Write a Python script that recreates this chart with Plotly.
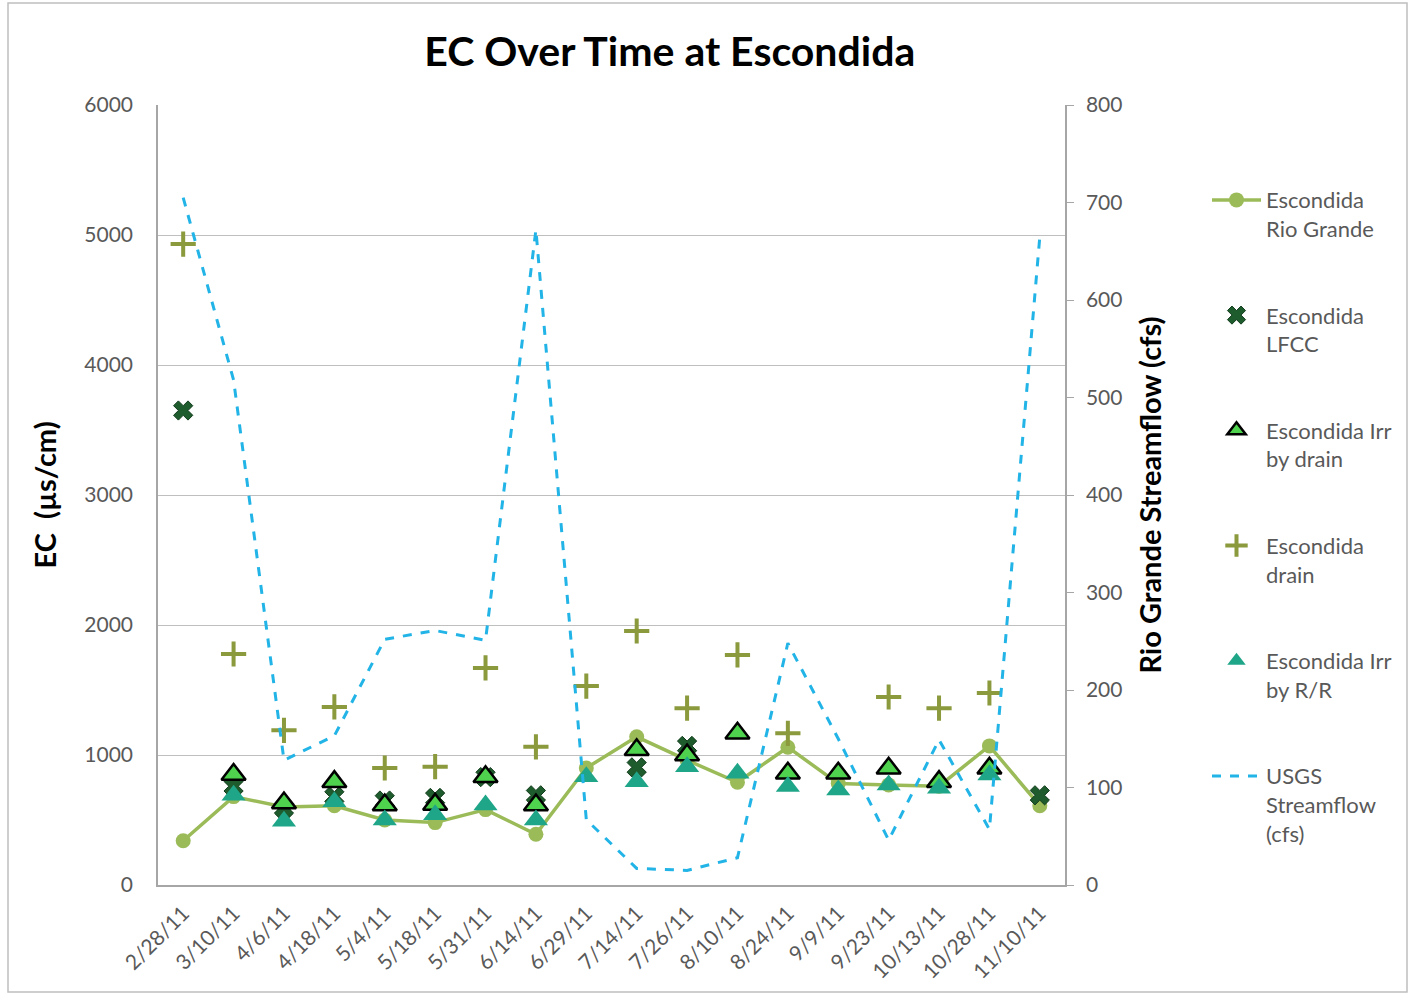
import plotly.graph_objects as go

# Sampling dates (category axis)
categories = ["2/28/11", "3/10/11", "4/6/11", "4/18/11", "5/4/11", "5/18/11",
              "5/31/11", "6/14/11", "6/29/11", "7/14/11", "7/26/11", "8/10/11",
              "8/24/11", "9/9/11", "9/23/11", "10/13/11", "10/28/11", "11/10/11"]

# EC (µs/cm) per sampling site
rio_grande = [340, 680, 600, 610, 500, 480, 580, 390, 900, 1140, 960, 790,
              1060, 780, 770, 760, 1070, 610]
lfcc = [3650, 760, 590, 680, 650, 670, 830, 690, None, 905, 1070, None,
        None, None, None, None, None, 690]
irr_drain = [None, 850, 630, 795, 615, 620, 833, 615, None, 1040, 1000, 1167,
             860, 860, 898, 795, 898, None]
drain = [4930, 1777, 1190, 1370, 900, 910, 1670, 1063, 1530, 1954, 1360, 1770,
         1167, None, 1446, 1360, 1477, None]
irr_rr = [None, 690, 490, 640, 500, 540, 615, 500, 833, 795, 910, 860,
          757, 730, 770, 745, 846, None]

# USGS streamflow (cfs), secondary axis
usgs = [705, 518, 128, 153, 252, 261, 251, 672, 67, 17, 15, 28,
        248, 150, 46, 149, 57, 665]

left_ticks = [0, 1000, 2000, 3000, 4000, 5000, 6000]
right_ticks = [0, 100, 200, 300, 400, 500, 600, 700, 800]

FONT = "Lato, 'Open Sans', sans-serif"
GREY_TXT = "#595959"
AXIS_GREY = "#a6a6a6"

fig = go.Figure()

fig.add_trace(go.Scatter(
    x=categories, y=rio_grande, name="Escondida<br>Rio Grande",
    mode="lines+markers", legendgroup="g1",
    line=dict(color="#9BBB59", width=3.5),
    marker=dict(symbol="circle", size=15, color="#9BBB59"),
))
fig.add_trace(go.Scatter(
    x=categories, y=lfcc, name="Escondida<br>LFCC",
    mode="markers", legendgroup="g2",
    marker=dict(symbol="x", size=17, color="#1E5B2D",
                line=dict(color="#123d1c", width=1)),
))
fig.add_trace(go.Scatter(
    x=categories, y=irr_drain, name="Escondida Irr<br>by drain",
    mode="markers", legendgroup="g3",
    marker=dict(symbol="triangle-up", size=21, color="#4FD34F",
                line=dict(color="#000000", width=2.5)),
))
fig.add_trace(go.Scatter(
    x=categories, y=drain, name="Escondida<br>drain",
    mode="markers", legendgroup="g4",
    marker=dict(symbol="cross-thin", size=18, color="#8A9A3C",
                line=dict(color="#8A9A3C", width=4)),
))
fig.add_trace(go.Scatter(
    x=categories, y=irr_rr, name="Escondida Irr<br>by R/R",
    mode="markers", legendgroup="g5",
    marker=dict(symbol="triangle-up", size=21, color="#1FA588"),
))
fig.add_trace(go.Scatter(
    x=categories, y=usgs, name="USGS<br>Streamflow<br>(cfs)",
    mode="lines", yaxis="y2", legendgroup="g6",
    line=dict(color="#22B4E6", width=3, dash="dash"),
))

fig.update_layout(
    width=1410, height=995,
    margin=dict(l=158, r=345, t=105, b=110),
    paper_bgcolor="white", plot_bgcolor="white",
    font=dict(family=FONT, color=GREY_TXT, size=21),
    title=dict(text="<b>EC Over Time at Escondida</b>",
               x=0.475, xref="container", xanchor="center",
               y=0.948, yref="container", yanchor="middle",
               font=dict(family=FONT, size=41, color="#000000")),
    showlegend=True,
    legend=dict(x=(1207 - 158) / 907, xanchor="left", y=0.905, yanchor="top",
                traceorder="grouped", tracegroupgap=55, valign="top",
                font=dict(family=FONT, size=22, color=GREY_TXT),
                bgcolor="rgba(0,0,0,0)", itemwidth=49),
    xaxis=dict(type="category", categoryorder="array", categoryarray=categories,
               range=[-0.5, len(categories) - 0.5],
               tickangle=-45, showgrid=False, showline=True,
               linecolor=AXIS_GREY, linewidth=1.5, ticks="",
               ticklabelstandoff=6,
               tickfont=dict(family=FONT, size=21, color=GREY_TXT)),
    yaxis=dict(range=[0, 6000], tickvals=left_ticks, showgrid=True,
               gridcolor="#bfbfbf", gridwidth=1.2, zeroline=False,
               showline=True, linecolor=AXIS_GREY, linewidth=1.5,
               ticks="", ticklabelstandoff=19,
               tickfont=dict(family=FONT, size=21, color=GREY_TXT),
               title=dict(text="<b>EC  (µs/cm)</b>", standoff=19,
                          font=dict(family=FONT, size=29, color="#000000"))),
    yaxis2=dict(range=[0, 800], tickvals=right_ticks, overlaying="y",
                side="right", showgrid=False, zeroline=False,
                showline=True, linecolor=AXIS_GREY, linewidth=1.5,
                ticks="outside", ticklen=7, tickcolor=AXIS_GREY,
                ticklabelstandoff=8,
                tickfont=dict(family=FONT, size=21, color=GREY_TXT),
                title=dict(text="<b>Rio Grande Streamflow (cfs)</b>", standoff=19,
                           font=dict(family=FONT, size=29, color="#000000"))),
    shapes=[dict(type="rect", xref="paper", yref="paper",
                 x0=(8 - 158) / 907, x1=(1407 - 158) / 907,
                 y0=(885 - 992) / 780, y1=(885 - 3) / 780,
                 line=dict(color="#bfbfbf", width=1.5), layer="below")],
)

fig.write_html("out.html")
